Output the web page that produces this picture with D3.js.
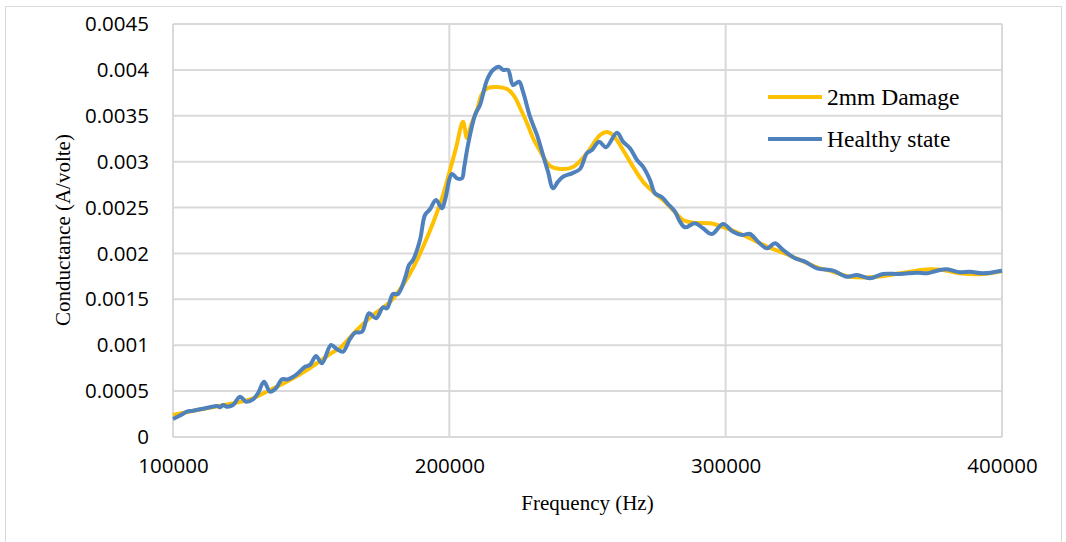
<!DOCTYPE html>
<html lang="en">
<head>
<meta charset="UTF-8">
<title>Conductance vs Frequency</title>
<script src="https://d3js.org/d3.v7.min.js"></script>
<style>
  body { margin: 0; background: #fff; }
</style>
</head>
<body>
<script>
// Frequency (Hz) and conductance (A/volte)
const damageFreq = [100000, 109771, 120627, 127865, 135102, 142340, 149578, 156816, 160435, 166586,
  172376, 178528, 183233, 186851, 190470, 194089, 197708, 200241, 202413, 204946,
  206393, 207841, 210012, 211822, 213993, 220869, 223402, 225935, 228107, 230278,
  232811, 236430, 240049, 244753, 249818, 254523, 257056, 259227, 262846, 266465,
  270084, 273703, 277321, 280940, 284559, 288178, 294330, 296863, 302653, 308805,
  314957, 320747, 326899, 333051, 338841, 344993, 352231, 359468, 366706, 373944,
  378648, 384800, 393123, 400000];
const damageG = [0.000240, 0.000300, 0.000360, 0.000409, 0.000512, 0.000621, 0.000752, 0.000904, 0.000970, 0.001166,
  0.001329, 0.001471, 0.001656, 0.001841, 0.002070, 0.002332, 0.002637, 0.002909, 0.003149, 0.003435,
  0.003258, 0.003399, 0.003563, 0.003737, 0.003803, 0.003792, 0.003716, 0.003563, 0.003421, 0.003258,
  0.003116, 0.002953, 0.002920, 0.002942, 0.003094, 0.003291, 0.003323, 0.003291, 0.003127, 0.002945,
  0.002782, 0.002673, 0.002582, 0.002473, 0.002364, 0.002335, 0.002328, 0.002310, 0.002248, 0.002165,
  0.002074, 0.002008, 0.001929, 0.001849, 0.001801, 0.001747, 0.001740, 0.001765, 0.001801, 0.001827,
  0.001820, 0.001784, 0.001776, 0.001809];

const healthyFreq = [100000, 102533, 105066, 107238, 110856, 113390, 115923, 117008, 118094, 119542,
  121713, 124246, 126417, 128950, 130760, 132931, 135102, 137274, 139445, 141616,
  144873, 147768, 149578, 151749, 153920, 157177, 159348, 161520, 164053, 165862,
  168395, 170928, 173462, 175995, 177442, 179614, 181423, 183956, 185404, 186851,
  189384, 191194, 193003, 195174, 197346, 198431, 200964, 202774, 204583, 205307,
  206755, 209288, 211097, 213630, 215802, 217973, 219420, 221230, 223039, 225211,
  226658, 229191, 231724, 233896, 235705, 237514, 239324, 241133, 244390, 247285,
  249818, 251628, 254161, 256694, 260675, 262846, 265379, 267912, 270084, 272617,
  274426, 276959, 279131, 281664, 283473, 285283, 288902, 291797, 295054, 299034,
  302653, 305910, 308805, 311700, 314957, 317852, 320747, 325090, 328709, 333051,
  338841, 343907, 347526, 352231, 356935, 363087, 369239, 372858, 376477, 380095,
  384800, 388419, 393123, 400000];
const healthyG = [0.000196, 0.000234, 0.000276, 0.000287, 0.000308, 0.000324, 0.000338, 0.000324, 0.000349, 0.000330,
  0.000349, 0.000439, 0.000385, 0.000411, 0.000476, 0.000603, 0.000494, 0.000531, 0.000629, 0.000629,
  0.000686, 0.000766, 0.000785, 0.000883, 0.000803, 0.001002, 0.000956, 0.000929, 0.001068, 0.001136,
  0.001147, 0.001348, 0.001293, 0.001413, 0.001402, 0.001558, 0.001558, 0.001729, 0.001874, 0.001929,
  0.002147, 0.002419, 0.002481, 0.002582, 0.002492, 0.002582, 0.002866, 0.002819, 0.002819, 0.002928,
  0.003182, 0.003508, 0.003617, 0.003890, 0.003999, 0.004035, 0.003999, 0.003999, 0.003835, 0.003871,
  0.003762, 0.003490, 0.003291, 0.003073, 0.002891, 0.002710, 0.002782, 0.002836, 0.002873, 0.002920,
  0.003094, 0.003127, 0.003218, 0.003157, 0.003316, 0.003218, 0.003146, 0.003018, 0.002945, 0.002800,
  0.002655, 0.002612, 0.002539, 0.002455, 0.002346, 0.002285, 0.002328, 0.002274, 0.002212, 0.002321,
  0.002237, 0.002201, 0.002212, 0.002128, 0.002056, 0.002111, 0.002038, 0.001947, 0.001910, 0.001838,
  0.001812, 0.001747, 0.001765, 0.001729, 0.001776, 0.001776, 0.001790, 0.001784, 0.001812, 0.001827,
  0.001795, 0.001801, 0.001784, 0.001812];

const xTicks = [100000, 200000, 300000, 400000];
const yTicks = [0, 0.0005, 0.001, 0.0015, 0.002, 0.0025, 0.003, 0.0035, 0.004, 0.0045];
const yTickLabels = ["0", "0.0005", "0.001", "0.0015", "0.002", "0.0025", "0.003", "0.0035", "0.004", "0.0045"];
const seriesNames = ["2mm Damage", "Healthy state"];
const seriesColors = ["#FFC000", "#4F81BD"];

const width = 1066, height = 542;
const marginLeft = 173, marginRight = 64, marginTop = 24, marginBottom = 105;
const grid = "#d9d9d9";

const svg = d3.select("body").append("svg")
    .attr("width", width)
    .attr("height", height);

svg.append("rect")
    .attr("x", 5.5).attr("y", 6.5)
    .attr("width", width - 10).attr("height", height + 10)
    .attr("fill", "#fff")
    .attr("stroke", grid);

const x = d3.scaleLinear()
    .domain([100000, 400000])
    .range([marginLeft, width - marginRight]);

const y = d3.scaleLinear()
    .domain([0, 0.0045])
    .range([height - marginBottom, marginTop]);

// gridlines
svg.append("g")
    .selectAll("line").data(yTicks).join("line")
    .attr("x1", marginLeft).attr("x2", width - marginRight)
    .attr("y1", d => y(d)).attr("y2", d => y(d))
    .attr("stroke", grid).attr("stroke-width", 2);

svg.append("g")
    .selectAll("line").data(xTicks).join("line")
    .attr("x1", d => x(d)).attr("x2", d => x(d))
    .attr("y1", y(0)).attr("y2", y(0.0045))
    .attr("stroke", grid).attr("stroke-width", 2);

// axes (labels only, lines come from the grid)
const yAxis = svg.append("g")
    .attr("transform", `translate(${marginLeft},0)`)
    .call(d3.axisLeft(y).tickValues(yTicks).tickFormat((d, i) => yTickLabels[i]).tickSize(0).tickPadding(24));
yAxis.select(".domain").remove();
yAxis.selectAll("text")
    .attr("font-family", "'Open Sans', sans-serif")
    .attr("font-size", 20.5)
    .attr("fill", "#000");

const xAxis = svg.append("g")
    .attr("transform", `translate(0,${y(0)})`)
    .call(d3.axisBottom(x).tickValues(xTicks).tickFormat(d3.format("d")).tickSize(0).tickPadding(21));
xAxis.select(".domain").remove();
xAxis.selectAll("text")
    .attr("font-family", "'Open Sans', sans-serif")
    .attr("font-size", 20.5)
    .attr("fill", "#000");

// series
const line = d3.line()
    .x(d => x(d[0]))
    .y(d => y(d[1]))
    .curve(d3.curveCatmullRom.alpha(0.5));

const damage = damageFreq.map((f, i) => [f, damageG[i]]);
const healthy = healthyFreq.map((f, i) => [f, healthyG[i]]);

svg.append("path")
    .datum(damage)
    .attr("fill", "none")
    .attr("stroke", seriesColors[0])
    .attr("stroke-width", 4)
    .attr("stroke-linejoin", "round")
    .attr("d", line);

svg.append("path")
    .datum(healthy)
    .attr("fill", "none")
    .attr("stroke", seriesColors[1])
    .attr("stroke-width", 4)
    .attr("stroke-linejoin", "round")
    .attr("d", line);

// axis titles
svg.append("text")
    .attr("x", (marginLeft + width - marginRight) / 2)
    .attr("y", 510)
    .attr("text-anchor", "middle")
    .attr("font-family", "'Liberation Serif', 'Times New Roman', serif")
    .attr("font-size", 21)
    .text("Frequency (Hz)");

svg.append("text")
    .attr("transform", "translate(70,230) rotate(-90)")
    .attr("text-anchor", "middle")
    .attr("font-family", "'Liberation Serif', 'Times New Roman', serif")
    .attr("font-size", 21)
    .text("Conductance (A/volte)");

// legend
const legend = svg.append("g")
    .selectAll("g").data(seriesNames).join("g")
    .attr("transform", (d, i) => `translate(768,${97 + i * 42})`);

legend.append("line")
    .attr("x1", 0).attr("x2", 54)
    .attr("stroke", (d, i) => seriesColors[i])
    .attr("stroke-width", 4);

legend.append("text")
    .attr("x", 59)
    .attr("y", 8)
    .attr("font-family", "'Liberation Serif', 'Times New Roman', serif")
    .attr("font-size", 23.5)
    .text(d => d);
</script>
</body>
</html>
